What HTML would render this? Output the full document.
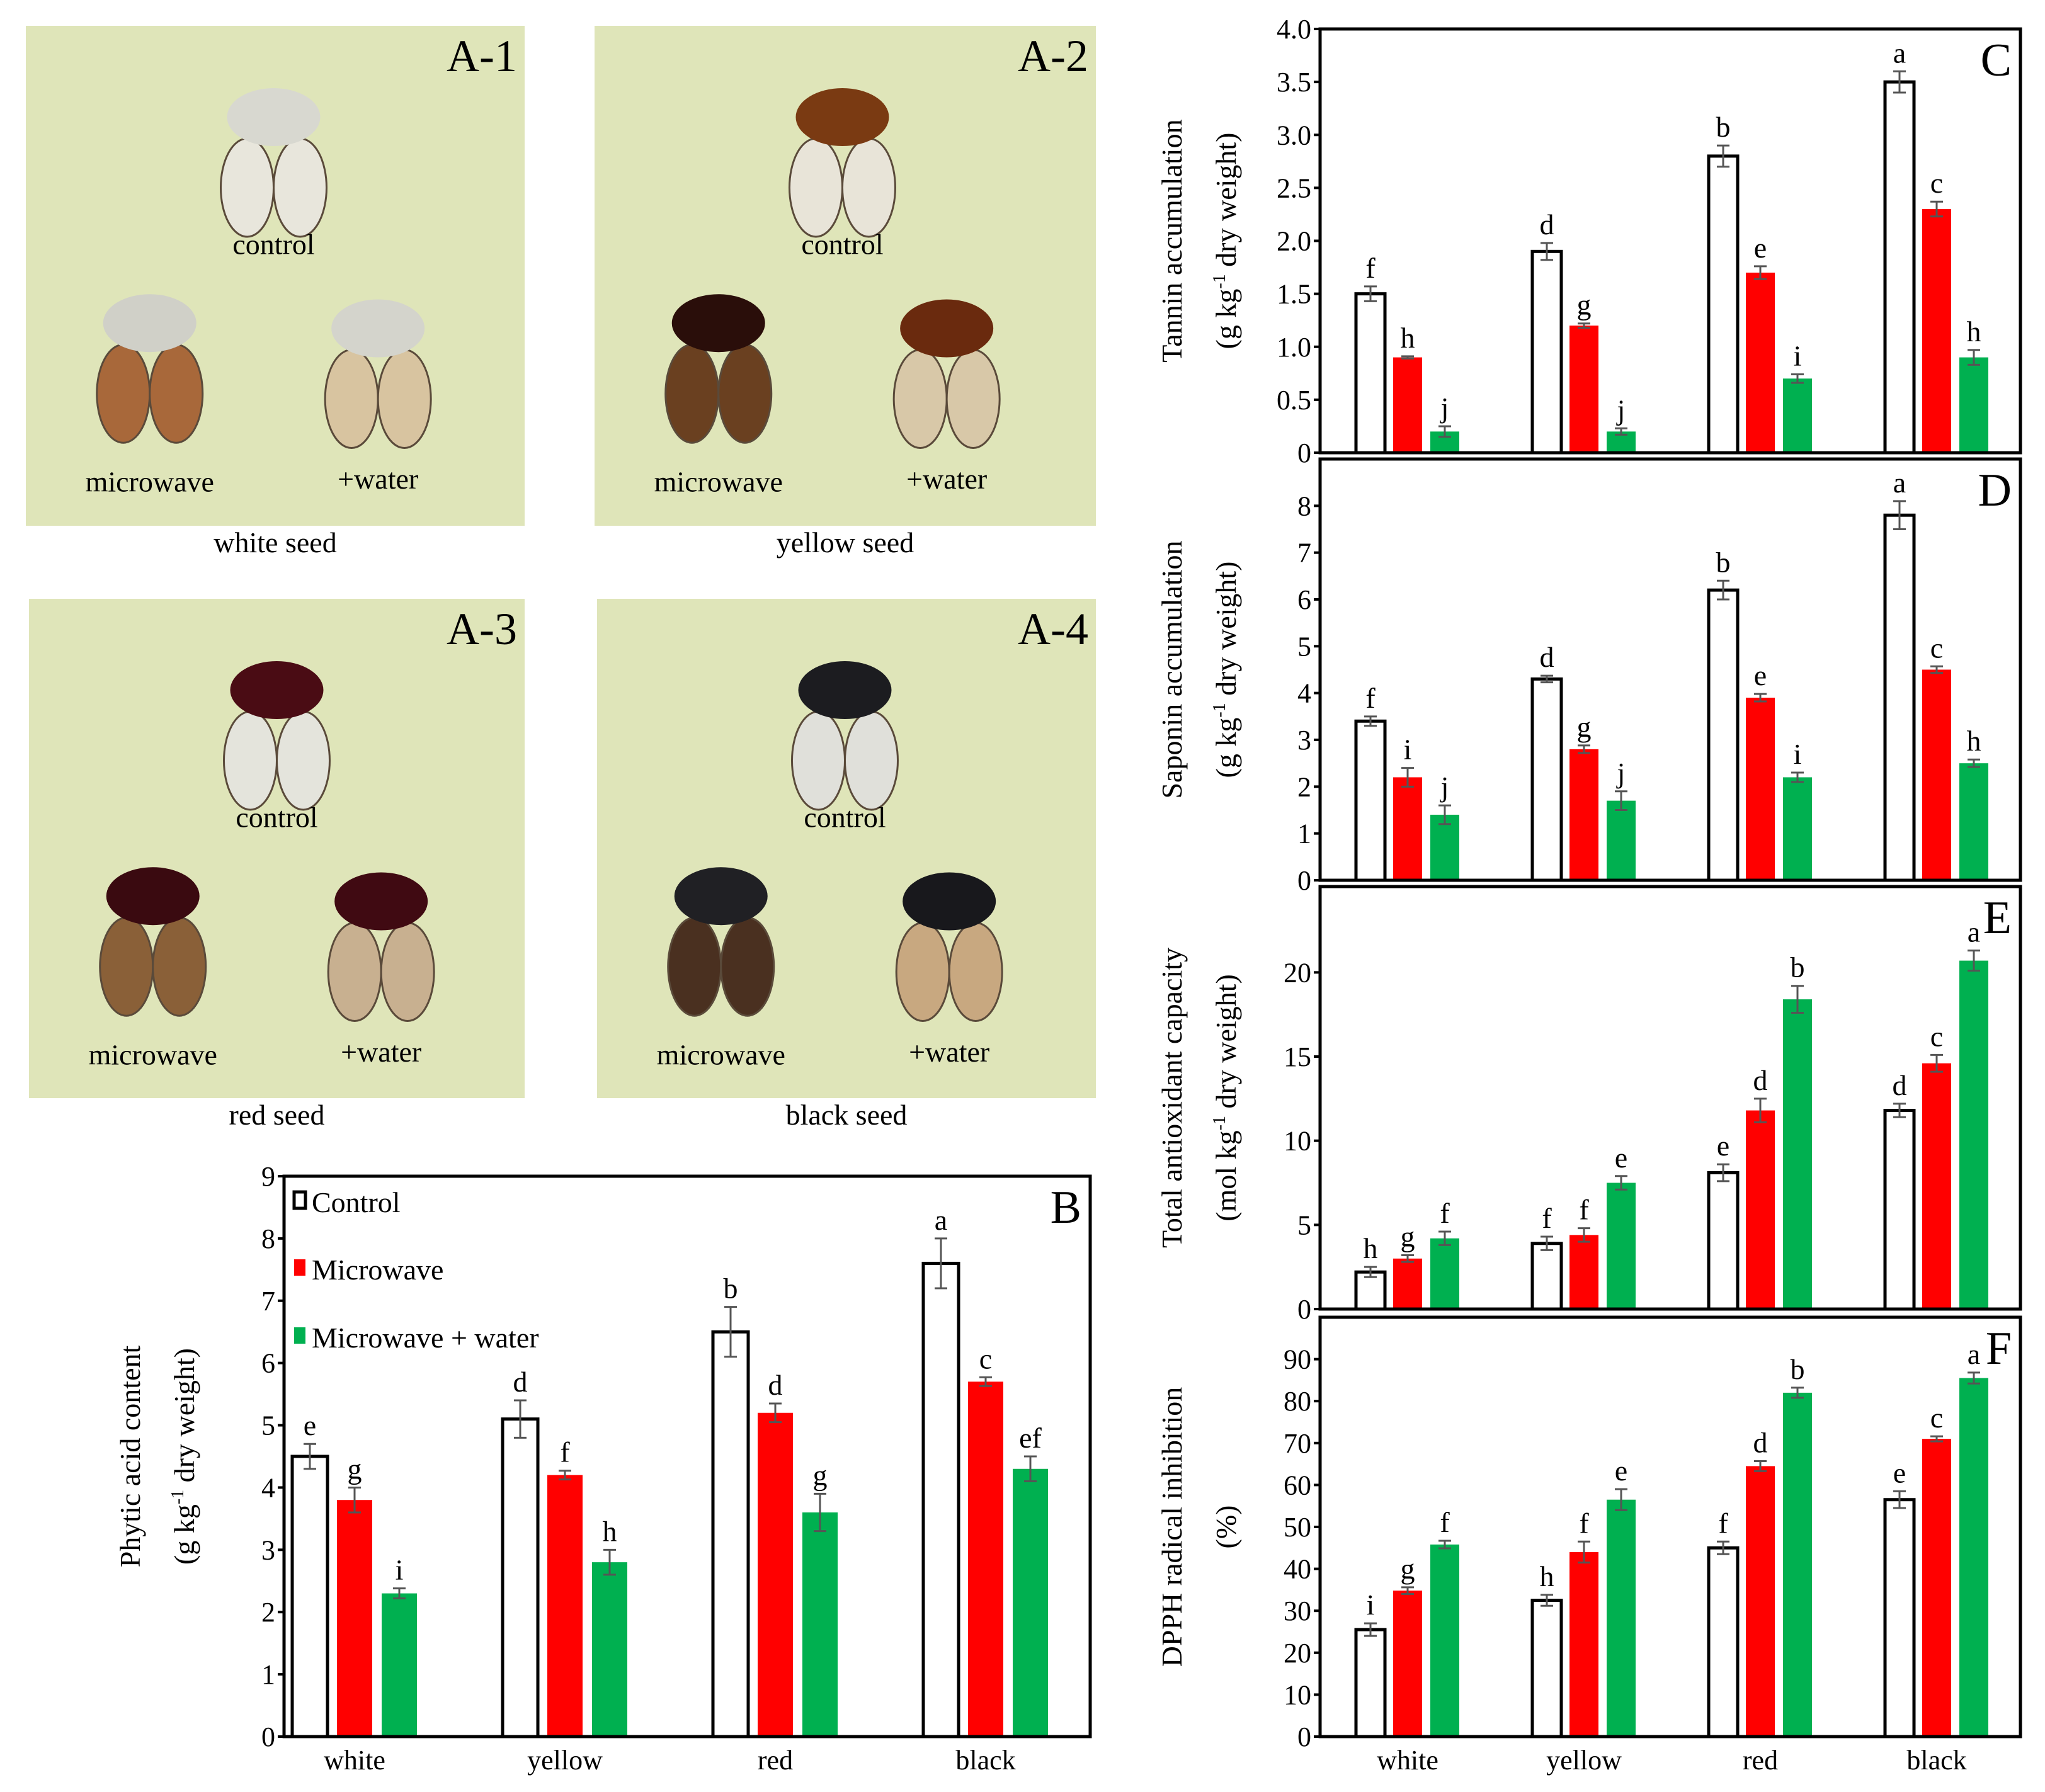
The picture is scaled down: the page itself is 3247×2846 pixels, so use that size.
<!DOCTYPE html>
<html><head><meta charset="utf-8"><style>
html,body{margin:0;padding:0;background:#fff}
svg, svg text{font-family:"Liberation Serif","DejaVu Serif",serif}
</style></head><body>
<svg id="fig" width="3247" height="2841" viewBox="0 0 3247 2841" xmlns="http://www.w3.org/2000/svg" font-family="Liberation Serif, serif">
<g id="photos"></g>
<g id="charts"></g>
</svg>
<script>
const categories = ["white","yellow","red","black"];
const seriesNames = ["Control","Microwave","Microwave + water"];
const seriesColors = ["#ffffff","#ff0000","#00b050"];
// B phytic acid
const bCtrl=[4.5,5.1,6.5,7.6], bCtrlErr=[0.2,0.3,0.4,0.4];
const bMw=[3.8,4.2,5.2,5.7], bMwErr=[0.2,0.07,0.15,0.07];
const bWat=[2.3,2.8,3.6,4.3], bWatErr=[0.08,0.2,0.3,0.2];
const bLetters=[["e","g","i"],["d","f","h"],["b","d","g"],["a","c","ef"]];
const bTicks=["0","1","2","3","4","5","6","7","8","9"];
// C tannin
const cCtrl=[1.5,1.9,2.8,3.5], cCtrlErr=[0.07,0.08,0.1,0.1];
const cMw=[0.9,1.2,1.7,2.3], cMwErr=[0.01,0.02,0.06,0.07];
const cWat=[0.2,0.2,0.7,0.9], cWatErr=[0.05,0.03,0.04,0.07];
const cLetters=[["f","h","j"],["d","g","j"],["b","e","i"],["a","c","h"]];
const cTicks=["0","0.5","1.0","1.5","2.0","2.5","3.0","3.5","4.0"];
// D saponin
const dCtrl=[3.4,4.3,6.2,7.8], dCtrlErr=[0.1,0.07,0.2,0.3];
const dMw=[2.2,2.8,3.9,4.5], dMwErr=[0.2,0.08,0.08,0.07];
const dWat=[1.4,1.7,2.2,2.5], dWatErr=[0.2,0.2,0.1,0.08];
const dLetters=[["f","i","j"],["d","g","j"],["b","e","i"],["a","c","h"]];
const dTicks=["0","1","2","3","4","5","6","7","8"];
// E antioxidant
const eCtrl=[2.2,3.9,8.1,11.8], eCtrlErr=[0.3,0.4,0.5,0.4];
const eMw=[3.0,4.4,11.8,14.6], eMwErr=[0.2,0.4,0.7,0.5];
const eWat=[4.2,7.5,18.4,20.7], eWatErr=[0.4,0.4,0.8,0.6];
const eLetters=[["h","g","f"],["f","f","e"],["e","d","b"],["d","c","a"]];
const eTicks=["0","5","10","15","20"];
// F DPPH
const fCtrl=[25.5,32.5,45,56.5], fCtrlErr=[1.5,1.3,1.5,2];
const fMw=[34.8,44,64.5,71], fMwErr=[0.8,2.5,1.2,0.6];
const fWat=[45.8,56.5,82,85.5], fWatErr=[0.9,2.5,1.2,1.3];
const fLetters=[["i","g","f"],["h","f","e"],["f","d","b"],["e","c","a"]];
const fTicks=["0","10","20","30","40","50","60","70","80","90"];

const NS="http://www.w3.org/2000/svg";
const FF="Liberation Serif, DejaVu Serif, serif";
function mk(tag,attrs,parent,text){const e=document.createElementNS(NS,tag);for(const k in attrs)e.setAttribute(k,attrs[k]);if(tag==="text")e.setAttribute("font-family",FF);if(text!==undefined)e.textContent=text;parent.appendChild(e);return e;}

function chart(o){
  const g=mk("g",{},document.getElementById("charts"));
  
  
  const y=v=>o.bottom-(v-0)/(o.max)*(o.bottom-o.top);
  const x=(i,s)=>o.left+o.first+o.spacing*i+(s-1)*o.pitch;
  const vals=[o.ctrl,o.mw,o.wat], errs=[o.ce,o.me,o.we];
  for(let s=0;s<3;s++){for(let i=0;i<4;i++){
    const cx=x(i,s), v=vals[s][i], e=errs[s][i];
    const r=mk("rect",{x:cx-o.bw/2,y:y(v),width:o.bw,height:o.bottom-y(v),fill:seriesColors[s],stroke:s==0?"#000":"none","stroke-width":5},g);
    
    
    const eb=mk("path",{d:`M${cx} ${y(v+e)}V${y(v-e)}M${cx-10} ${y(v+e)}H${cx+10}M${cx-10} ${y(v-e)}H${cx+10}`,stroke:"#555","stroke-width":3,fill:"none"},g);
    
    
    const t=mk("text",{x:cx,y:y(v+e)-14,"font-size":o.fs+2,"text-anchor":"middle"},g,o.letters[i][s]);
    
    
  }}
  const ax=mk("rect",{x:o.left,y:o.top,width:o.right-o.left,height:o.bottom-o.top,fill:"none",stroke:"#000","stroke-width":5},g);
  
  
  o.ticks.forEach((t,k)=>{
    const v=k*o.step, yy=y(v);
    mk("line",{x1:o.left-10,x2:o.left,y1:yy,y2:yy,stroke:"#000","stroke-width":4},g);
    const tl=mk("text",{x:o.left-14,y:yy+15,"font-size":o.fs,"text-anchor":"end"},g,t);
    
    
  });
  if(o.xlabels){categories.forEach((c,i)=>{
    const xl=mk("text",{x:x(i,1),y:o.bottom+52,"font-size":o.fs,"text-anchor":"middle"},g,c);
    
    
  });}
  const pl=mk("text",{x:o.right-14,y:o.top+74,"font-size":74,"text-anchor":"end"},g,o.letter);
  
  
  const cy=(o.top+o.bottom)/2;
  o.title.forEach((tt,k)=>{
    const tx=o.titleX+k*86;
    const te=mk("text",{x:tx,y:cy,"font-size":46,"text-anchor":"middle",transform:`rotate(-90 ${tx} ${cy})`},g);
    
    
    if(tt.startsWith("(") && tt.includes("kg")){
      te.appendChild(document.createTextNode(tt.slice(0,-1)));
      mk("tspan",{"font-size":28,dy:-17},te,"-1");
      mk("tspan",{dy:17},te," dry weight)");
    } else te.textContent=tt;
  });
  return g;
}
const cL=2096,cR=3208;
const cfg={left:cL,right:cR,first:139,spacing:280,pitch:59,bw:46,fs:44,titleX:1876};
chart(Object.assign({},cfg,{key:"c",name:"tannin-chart",top:46,bottom:719,max:4,step:0.5,ticks:cTicks,ctrl:cCtrl,mw:cMw,wat:cWat,ce:cCtrlErr,me:cMwErr,we:cWatErr,letters:cLetters,letter:"C",title:["Tannin accumulation","(g kg)"]}));
chart(Object.assign({},cfg,{key:"d",name:"saponin-chart",top:729,bottom:1398,max:9,step:1,ticks:dTicks,ctrl:dCtrl,mw:dMw,wat:dWat,ce:dCtrlErr,me:dMwErr,we:dWatErr,letters:dLetters,letter:"D",title:["Saponin accumulation","(g kg)"]}));
chart(Object.assign({},cfg,{key:"e",name:"antioxidant-chart",top:1408,bottom:2079,max:25.1,step:5,ticks:eTicks,ctrl:eCtrl,mw:eMw,wat:eWat,ce:eCtrlErr,me:eMwErr,we:eWatErr,letters:eLetters,letter:"E",title:["Total antioxidant capacity","(mol kg)"]}));
chart(Object.assign({},cfg,{key:"f",name:"dpph-chart",top:2092,bottom:2758,max:100,step:10,ticks:fTicks,ctrl:fCtrl,mw:fMw,wat:fWat,ce:fCtrlErr,me:fMwErr,we:fWatErr,letters:fLetters,letter:"F",title:["DPPH radical inhibition","(%)"],xlabels:true}));
chart({key:"b",name:"phytic-acid-chart",left:451,right:1731,top:1868,bottom:2758,first:112,spacing:334,pitch:71,bw:56,fs:44,titleX:222,max:9,step:1,ticks:bTicks,ctrl:bCtrl,mw:bMw,wat:bWat,ce:bCtrlErr,me:bMwErr,we:bWatErr,letters:bLetters,letter:"B",title:["Phytic acid content","(g kg)"],xlabels:true});

// legend in B
const cg=document.getElementById("charts");
const legY=[1925,2032,2140];
seriesNames.forEach((n,s)=>{
  const ly=legY[s];
  const r=mk("rect",{x:467,y:ly-32,width:18,height:26,fill:seriesColors[s],stroke:s==0?"#000":"none","stroke-width":5},cg);
  
  
  const t=mk("text",{x:495,y:ly,"font-size":46},cg,n);
  
  
});

// photos
const P=document.getElementById("photos"), k=2.071;
const panels=[
 {x:41,y:41,w:792,h:794,lab:"A-1",cap:"white seed",coat:["#d8d8d0","#d0d0c8","#d4d4cc"],half:["#e8e6dc","#a8683a","#d8c4a0"]},
 {x:944,y:41,w:796,h:794,lab:"A-2",cap:"yellow seed",coat:["#7a3a12","#2a0e0a","#6a2a0e"],half:["#e8e4d8","#6a4020","#d8c8a8"]},
 {x:46,y:951,w:787,h:793,lab:"A-3",cap:"red seed",coat:["#4a0c14","#3a0a10","#400a12"],half:["#e4e4dc","#8a6038","#c8b090"]},
 {x:948,y:951,w:792,h:793,lab:"A-4",cap:"black seed",coat:["#1c1c20","#202024","#18181c"],half:["#e0e0da","#4a3020","#c8a880"]}];
const spots=[{cx:190,cy:70,lab:"control",ly:175},{cx:95,cy:228,lab:"microwave",ly:357},{cx:270,cy:232,lab:"+water",ly:355}];
panels.forEach(p=>{
  const g=mk("g",{},P);
  
  
  mk("rect",{x:p.x,y:p.y,width:p.w,height:p.h,fill:"#dfe5b9"},g);
  spots.forEach((s,i)=>{
    const cx=p.x+s.cx*k, cy=p.y+s.cy*k;
    mk("ellipse",{cx:cx-42,cy:cy+112,rx:42,ry:78,fill:p.half[i],stroke:"#5a4a3a","stroke-width":3},g);
    mk("ellipse",{cx:cx+42,cy:cy+112,rx:42,ry:78,fill:p.half[i],stroke:"#5a4a3a","stroke-width":3},g);
    mk("ellipse",{cx:cx,cy:cy,rx:74,ry:46,fill:p.coat[i]},g);
    const t=mk("text",{x:cx,y:p.y+s.ly*k,"font-size":46,"text-anchor":"middle"},g,s.lab);
    
    
  });
  const l=mk("text",{x:p.x+p.w-12,y:p.y+72,"font-size":72,"text-anchor":"end"},g,p.lab);
  
  
  const c=mk("text",{x:p.x+p.w/2,y:p.y+p.h+42,"font-size":46,"text-anchor":"middle"},g,p.cap);
  
  
});
</script>
</body></html>
